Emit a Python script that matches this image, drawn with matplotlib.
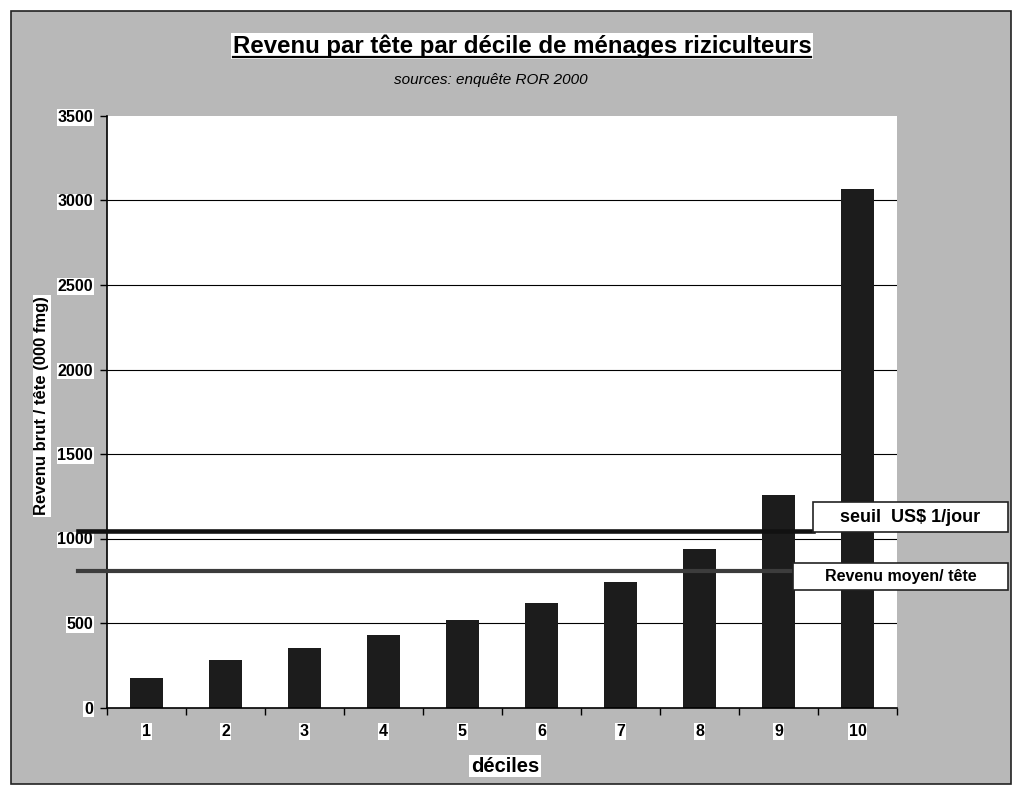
import numpy as np
import matplotlib
matplotlib.use("Agg")
from matplotlib import pyplot as plt
from matplotlib import transforms
from matplotlib.patches import Rectangle
from matplotlib.lines import Line2D

plt.rcParams['font.family'] = ['Liberation Sans', 'DejaVu Sans']

# data
deciles = [1, 2, 3, 4, 5, 6, 7, 8, 9, 10]
revenu = [174, 280, 353, 428, 517, 616, 744, 935, 1257, 3068]
seuil_usd = 1045      # seuil US$ 1/jour
revenu_moyen = 809    # revenu moyen / tete
yticks = [0, 500, 1000, 1500, 2000, 2500, 3000, 3500]

W, H = 1016, 787
fig = plt.figure(figsize=(W / 100, H / 100), dpi=100, facecolor='white')

# gray chart area with black frame
bg = Rectangle((11 / W, 3 / H), 1000 / W, 773 / H, transform=fig.transFigure,
               facecolor='#b8b8b8', edgecolor='#222222', linewidth=1.2, zorder=-1)
fig.patches.append(bg)

ax = fig.add_axes([107 / W, (H - 707.5) / H, (897 - 107) / W, (707.5 - 116) / H])
ax.set_facecolor('white')

ax.bar(deciles, revenu, width=0.42, color='#1c1c1c', zorder=2)

ax.set_xlim(0.5, 10.5)
ax.set_ylim(0, 3500)
ax.set_yticks(yticks, labels=[str(v) for v in yticks])
ax.set_xticks(deciles, labels=[str(d) for d in deciles])
ax.set_xticks(np.arange(0.5, 11, 1), minor=True)

ax.tick_params(axis='x', which='major', length=0, pad=12, labelsize=11.5)
ax.tick_params(axis='x', which='minor', length=5, width=1, direction='out')
ax.tick_params(axis='y', length=5, width=1, direction='out', pad=5, labelsize=11.5)
for lab in ax.get_xticklabels() + ax.get_yticklabels():
    lab.set_fontweight('bold')
    lab.set_bbox(dict(facecolor='white', edgecolor='none', pad=0.6))

ax.grid(axis='y', color='black', linewidth=0.8, zorder=1)
ax.get_ygridlines()[-1].set_visible(False)
ax.get_ygridlines()[0].set_visible(False)
for s in ['top', 'right']:
    ax.spines[s].set_visible(False)
for s in ['left', 'bottom']:
    ax.spines[s].set_linewidth(1.2)

# reference lines drawn across the chart
tr = transforms.blended_transform_factory(fig.transFigure, ax.transData)
ax.add_line(Line2D([78 / W, 813 / W], [seuil_usd, seuil_usd], transform=tr,
                   color='#111111', linewidth=3.3, clip_on=False, zorder=3))
ax.add_line(Line2D([78 / W, 793 / W], [revenu_moyen, revenu_moyen], transform=tr,
                   color='#3c3c3c', linewidth=3.0, clip_on=False, zorder=4))

# label boxes
fig.patches.append(Rectangle((813 / W, (H - 532) / H), 195 / W, 30 / H,
                             transform=fig.transFigure, facecolor='white',
                             edgecolor='#222222', linewidth=1.2, zorder=5))
fig.text(910 / W, (H - 517) / H, 'seuil  US$ 1/jour', ha='center', va='center',
         fontsize=13, fontweight='bold', zorder=6)
fig.patches.append(Rectangle((793 / W, (H - 590) / H), 215 / W, 27 / H,
                             transform=fig.transFigure, facecolor='white',
                             edgecolor='#222222', linewidth=1.2, zorder=5))
fig.text(901 / W, (H - 576) / H, 'Revenu moyen/ tête', ha='center', va='center',
         fontsize=11.5, fontweight='bold', zorder=6)

# titles
title = fig.text(522 / W, (H - 53) / H, 'Revenu par tête par décile de ménages riziculteurs',
                 ha='center', va='baseline', fontsize=17.3, fontweight='bold',
                 bbox=dict(facecolor='white', edgecolor='none', pad=1))
fig.text(491 / W, (H - 80) / H, 'sources: enquête ROR 2000', ha='center', va='center',
         fontsize=11, fontstyle='italic')
fig.text(42 / W, (H - 406) / H, 'Revenu brut / tête (000 fmg)', rotation=90,
         ha='center', va='center', fontsize=12, fontweight='bold',
         bbox=dict(facecolor='white', edgecolor='none', pad=1))
fig.text(505 / W, (H - 766) / H, 'déciles', ha='center', va='center',
         fontsize=14.5, fontweight='bold',
         bbox=dict(facecolor='white', edgecolor='none', pad=1))

# underline the title
fig.canvas.draw()
bb = title.get_window_extent(fig.canvas.get_renderer())
fig.add_artist(Line2D([bb.x0 / W, bb.x1 / W], [(H - 57) / H, (H - 57) / H],
                      transform=fig.transFigure, color='black', linewidth=1.6,
                      zorder=10))

fig.savefig('out.png', dpi=100, facecolor='white')
